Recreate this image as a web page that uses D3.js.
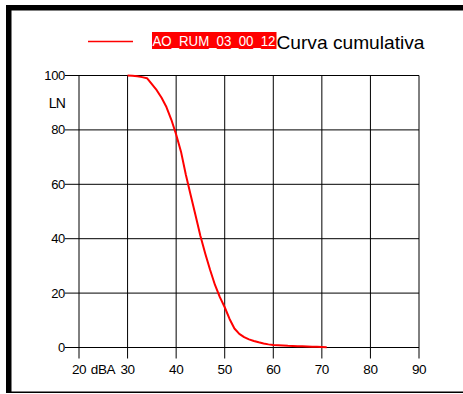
<!DOCTYPE html>
<html><head><meta charset="utf-8">
<script src="https://cdn.jsdelivr.net/npm/d3@7"></script>
<style>html,body{margin:0;padding:0;background:#fff;}svg{display:block;font-family:"Liberation Sans",Arial,sans-serif;}</style>
</head><body>
<script>
const dBA = [30,31,32,33,34,35,36,37,38,39,40,41,42,43,44,45,46,47,48,49,50,51,52,53,54,55,56,57,58,59,60,61,62,63,64,65,66,67,68,69,70,71];
const LN  = [100,99.9,99.7,99.4,99,96.8,94.6,91.8,88.4,83.8,78.3,72,63.5,56,48.5,41,34.5,28.5,23,18.5,14.8,10.5,7,5,3.8,3,2.4,1.9,1.5,1.15,0.9,0.8,0.7,0.6,0.55,0.5,0.45,0.4,0.3,0.25,0.2,0.1];
const xTicks = [20,30,40,50,60,70,80,90];
const yTicks = [0,20,40,60,80,100];
const seriesName = "AO_RUM_03_00_12";
const chartTitle = "Curva cumulativa";
const xUnit = "dBA";
const yUnit = "LN";

const W = 463, H = 394;
const svg = d3.select("body").append("svg").attr("width", W).attr("height", H);

// frame
svg.append("rect").attr("x",6).attr("y",5).attr("width",W-6).attr("height",5.5).attr("fill","#000");
svg.append("rect").attr("x",6).attr("y",5).attr("width",5.5).attr("height",388).attr("fill","#000");
svg.append("rect").attr("x",6).attr("y",391.5).attr("width",W-6).attr("height",1.5).attr("fill","#000");

const x = d3.scaleLinear().domain([20,90]).range([79, 419]);
const y = d3.scaleLinear().domain([0,100]).range([347.5, 75.5]);

const g = svg.append("g");
// vertical grid + bottom ticks
g.selectAll("line.vg").data(xTicks).join("line")
  .attr("x1", d=>x(d)).attr("x2", d=>x(d))
  .attr("y1", y(100)).attr("y2", y(0)+11)
  .attr("stroke", "#000").attr("stroke-width", 1);
// horizontal grid + left ticks
g.selectAll("line.hg").data(yTicks).join("line")
  .attr("x1", x(20)-14).attr("x2", x(90))
  .attr("y1", d=>y(d)).attr("y2", d=>y(d))
  .attr("stroke", "#000").attr("stroke-width", 1);

// y labels
g.selectAll("text.yl").data(yTicks).join("text")
  .attr("x", x(20)-14).attr("y", d=>y(d)+4.5)
  .attr("text-anchor","end").attr("font-size", 13).attr("fill","#000")
  .attr("letter-spacing", -0.3)
  .text(d=>d);
g.append("text").attr("x", 57).attr("y", 108).attr("text-anchor","middle")
  .attr("font-size", 14).attr("letter-spacing", -0.6).text(yUnit);

// x labels
g.selectAll("text.xl").data(xTicks).join("text")
  .attr("x", d=>x(d)).attr("y", 373.5)
  .attr("text-anchor","middle").attr("font-size", 13.5).attr("fill","#000")
  .attr("letter-spacing", -0.4)
  .text(d=>d);
g.append("text").attr("x", 103).attr("y", 373.5).attr("text-anchor","middle")
  .attr("font-size", 13.5).attr("letter-spacing", -0.4).text(xUnit);

// curve
const line = d3.line().x((d,i)=>x(dBA[i])).y(d=>y(d));
g.append("path").datum(LN).attr("d", line)
  .attr("fill","none").attr("stroke","#ff0000").attr("stroke-width",2).attr("stroke-linejoin","round");

// legend
svg.append("line").attr("x1",88).attr("x2",133).attr("y1",41.5).attr("y2",41.5)
  .attr("stroke","#ff0000").attr("stroke-width",1.5);
svg.append("rect").attr("x",152).attr("y",32).attr("width",124.5).attr("height",17).attr("fill","#ff0000");
svg.append("text").attr("x",152.5).attr("y",46).attr("font-size",14.5).attr("fill","#fff")
  .attr("textLength",123).attr("lengthAdjust","spacingAndGlyphs").text(seriesName);
svg.append("text").attr("x",276.5).attr("y",49).attr("font-size",19).attr("fill","#000")
  .attr("textLength",148).attr("lengthAdjust","spacingAndGlyphs").text(chartTitle);
</script>
</body></html>
